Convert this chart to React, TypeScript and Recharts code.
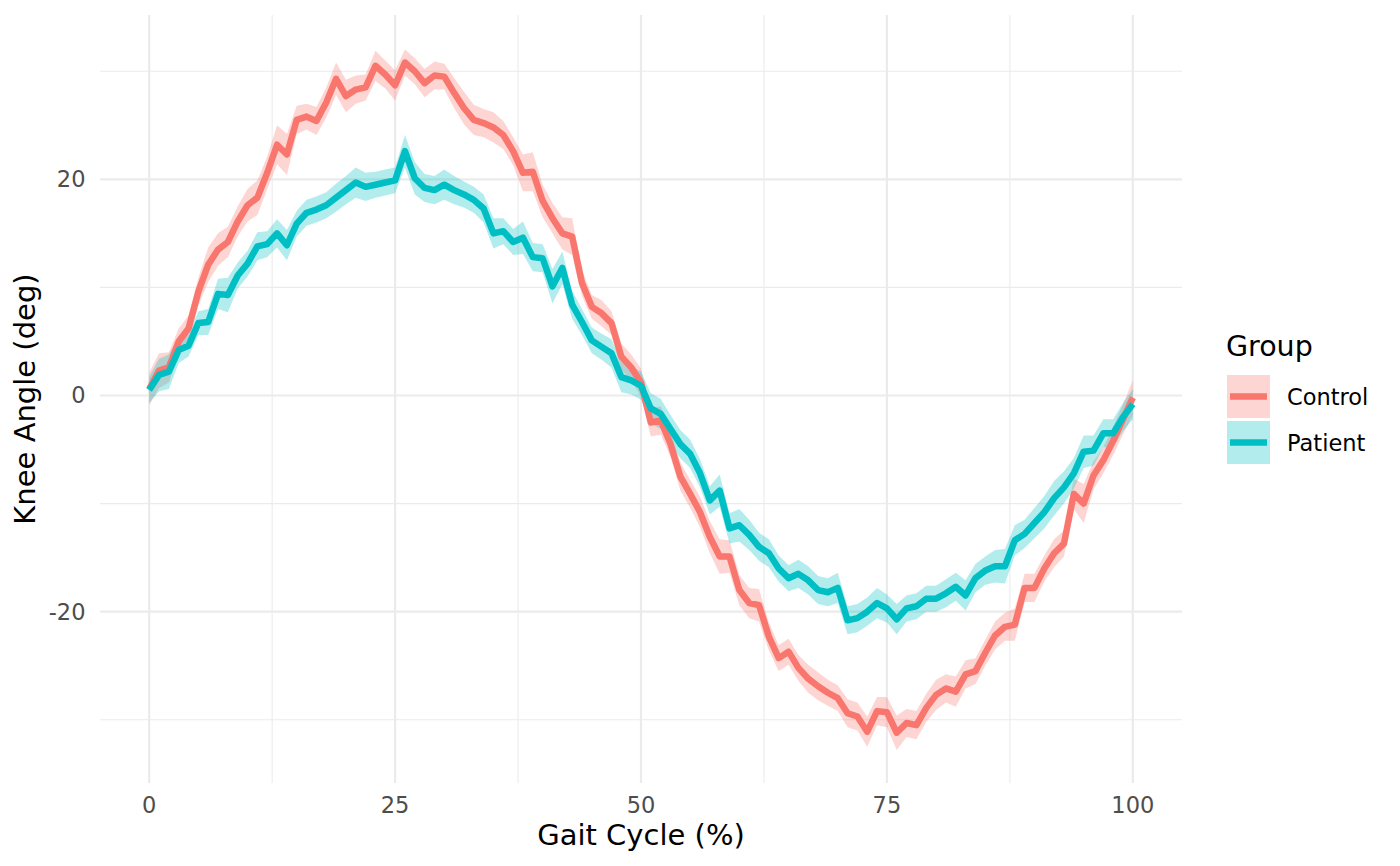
import React from 'react';
import {
  ComposedChart, Area, Line, XAxis, YAxis, CartesianGrid,
} from 'recharts';

// gait cycle positions (%)
const gaitPct = [
  0, 1, 2, 3, 4, 5, 6, 7, 8, 9, 10, 11, 12, 13, 14, 15, 16, 17, 18, 19,
  20, 21, 22, 23, 24, 25, 26, 27, 28, 29, 30, 31, 32, 33, 34, 35, 36, 37, 38, 39,
  40, 41, 42, 43, 44, 45, 46, 47, 48, 49, 50, 51, 52, 53, 54, 55, 56, 57, 58, 59,
  60, 61, 62, 63, 64, 65, 66, 67, 68, 69, 70, 71, 72, 73, 74, 75, 76, 77, 78, 79,
  80, 81, 82, 83, 84, 85, 86, 87, 88, 89, 90, 91, 92, 93, 94, 95, 96, 97, 98, 99, 100,
];

const controlMean = [
  0.6, 2.3, 2.6, 5.0, 6.2, 9.6, 12.1, 13.5, 14.2, 16.1,
  17.6, 18.3, 20.6, 23.2, 22.3, 25.5, 25.8, 25.4, 27.1, 29.3,
  27.7, 28.3, 28.5, 30.5, 29.7, 28.7, 30.8, 30.0, 28.9, 29.6,
  29.5, 28.0, 26.6, 25.5, 25.2, 24.8, 24.1, 22.6, 20.6, 20.7,
  18.0, 16.4, 15.0, 14.7, 10.4, 8.2, 7.6, 6.7, 3.6, 2.6,
  1.2, -2.5, -2.3, -4.5, -7.5, -9.1, -10.8, -13.1, -14.9, -14.9,
  -18.0, -19.2, -19.4, -22.3, -24.3, -23.7, -25.2, -26.2, -26.9, -27.5,
  -28.0, -29.4, -29.7, -31.1, -29.2, -29.3, -31.2, -30.3, -30.5, -28.9,
  -27.7, -27.1, -27.4, -25.8, -25.5, -23.8, -22.2, -21.4, -21.2, -17.8,
  -17.8, -16.0, -14.6, -13.7, -9.1, -10.0, -7.4, -6.0, -4.2, -2.2,
  -0.2,
];

const controlSd = [
  1.5, 1.6, 1.4, 1.2, 1.2, 1.3, 1.6, 1.5, 1.4, 1.4,
  1.5, 1.6, 1.5, 1.8, 1.9, 1.3, 1.2, 1.3, 1.4, 1.5,
  1.5, 1.3, 1.2, 1.4, 1.3, 1.4, 1.2, 1.2, 1.3, 1.3,
  1.2, 1.4, 1.5, 1.4, 1.3, 1.4, 1.3, 1.3, 1.7, 1.8,
  1.5, 1.4, 1.5, 1.7, 1.2, 1.1, 1.2, 1.1, 1.2, 1.2,
  1.3, 1.3, 1.3, 1.2, 1.3, 1.3, 1.4, 1.5, 1.6, 1.5,
  1.4, 1.4, 1.5, 1.3, 1.2, 1.2, 1.2, 1.3, 1.3, 1.2,
  1.2, 1.3, 1.3, 1.4, 1.3, 1.4, 1.6, 1.3, 1.3, 1.3,
  1.4, 1.3, 1.4, 1.3, 1.2, 1.2, 1.3, 1.3, 1.5, 1.3,
  1.3, 1.2, 1.3, 1.2, 1.4, 1.8, 1.3, 1.2, 1.3, 1.4,
  1.6,
];

const patientMean = [
  0.5, 1.9, 2.2, 4.2, 4.6, 6.7, 6.8, 9.4, 9.3, 11.1,
  12.2, 13.8, 14.0, 15.0, 13.9, 15.9, 16.9, 17.2, 17.6, 18.3,
  19.0, 19.7, 19.3, 19.5, 19.7, 19.9, 22.6, 20.1, 19.2, 19.0,
  19.5, 19.0, 18.6, 18.1, 17.3, 15.0, 15.2, 14.2, 14.6, 12.8,
  12.7, 10.1, 11.8, 8.4, 6.8, 5.1, 4.5, 3.9, 1.7, 1.4,
  0.9, -1.2, -1.7, -3.1, -4.5, -5.4, -7.2, -9.7, -8.8, -12.3,
  -12.0, -12.9, -14.0, -14.6, -16.0, -16.9, -16.5, -17.1, -18.0, -18.2,
  -17.8, -20.8, -20.6, -20.0, -19.2, -19.7, -20.7, -19.7, -19.5, -18.8,
  -18.8, -18.3, -17.7, -18.5, -16.9, -16.2, -15.8, -15.8, -13.4, -12.8,
  -11.8, -10.8, -9.5, -8.5, -7.2, -5.2, -5.1, -3.5, -3.5, -2.0,
  -0.8,
];

const patientSd = [
  1.2, 1.5, 1.6, 1.2, 1.0, 1.1, 1.2, 1.4, 1.6, 1.2,
  1.2, 1.3, 1.2, 1.3, 1.4, 1.2, 1.2, 1.2, 1.2, 1.3,
  1.3, 1.4, 1.3, 1.2, 1.2, 1.2, 1.5, 1.5, 1.3, 1.3,
  1.4, 1.3, 1.2, 1.2, 1.3, 1.4, 1.2, 1.2, 1.5, 1.3,
  1.3, 1.6, 1.5, 1.3, 1.2, 1.2, 1.2, 1.3, 1.4, 1.3,
  1.3, 1.4, 1.4, 1.3, 1.3, 1.3, 1.3, 1.3, 1.5, 1.4,
  1.5, 1.4, 1.3, 1.3, 1.2, 1.2, 1.3, 1.3, 1.3, 1.3,
  1.4, 1.3, 1.3, 1.3, 1.4, 1.3, 1.4, 1.2, 1.2, 1.2,
  1.2, 1.3, 1.3, 1.4, 1.3, 1.3, 1.5, 1.6, 1.4, 1.3,
  1.4, 1.5, 1.6, 1.5, 1.4, 1.5, 1.4, 1.3, 1.3, 1.3,
  1.4,
];

const xTicks = [0, 25, 50, 75, 100];
const xMinor = [12.5, 37.5, 62.5, 87.5];
const yTicks = [-20, 0, 20];
const yMinor = [-30, -10, 10, 30];

const groups = [
  { name: 'Control', color: '#F8766D' },
  { name: 'Patient', color: '#00BFC4' },
];

const FONT = '"DejaVu Sans", sans-serif';
const GRID = '#EBEBEB';
const TICK = { fill: '#4D4D4D', fontSize: 22.5, fontFamily: FONT };
const TITLE = { fontSize: 29, fill: '#000', fontFamily: FONT };

const data = gaitPct.map((p, i) => ({
  pct: p,
  control: controlMean[i],
  controlBand: [controlMean[i] - controlSd[i], controlMean[i] + controlSd[i]],
  patient: patientMean[i],
  patientBand: [patientMean[i] - patientSd[i], patientMean[i] + patientSd[i]],
}));

function GroupLegend() {
  return (
    <svg
      width={1400}
      height={866}
      style={{ position: 'absolute', left: 0, top: 0, pointerEvents: 'none' }}
    >
      <text x={1226} y={356} fontSize={28.5} fontFamily={FONT} fill="#000">Group</text>
      {groups.map((g, i) => {
        const top = 375 + i * 46;
        return (
          <g key={g.name}>
            <rect x={1227} y={top} width={43} height={43} fill={g.color} fillOpacity={0.3} />
            <line x1={1230} x2={1267} y1={top + 21.5} y2={top + 21.5} stroke={g.color} strokeWidth={6.5} />
            <text x={1287} y={top + 30} fontSize={22.5} fontFamily={FONT} fill="#000">{g.name}</text>
          </g>
        );
      })}
    </svg>
  );
}

export default function App() {
  return (
    <div style={{ position: 'absolute', left: 0, top: 0, width: 1400, height: 866, background: '#fff', fontFamily: FONT }}>
      <ComposedChart
        width={1400}
        height={866}
        data={data}
        margin={{ top: 15, right: 218, left: 0, bottom: 0 }}
      >
        <CartesianGrid stroke={GRID} strokeWidth={1.1} horizontalValues={yMinor} verticalValues={xMinor} />
        <CartesianGrid stroke={GRID} strokeWidth={2.2} horizontalValues={yTicks} verticalValues={xTicks} />
        <XAxis
          dataKey="pct"
          type="number"
          domain={[-5, 105]}
          ticks={xTicks}
          tick={TICK}
          tickLine={false}
          axisLine={false}
          tickMargin={8}
          height={83}
          label={{
            value: 'Gait Cycle (%)',
            position: 'insideBottom',
            offset: 21,
            style: TITLE,
          }}
        />
        <YAxis
          type="number"
          domain={[-35.85, 35.2]}
          ticks={yTicks}
          tick={TICK}
          tickLine={false}
          axisLine={false}
          tickMargin={8.5}
          width={100}
          allowDataOverflow
          label={{
            value: 'Knee Angle (deg)',
            angle: -90,
            position: 'insideLeft',
            offset: 25,
            style: { ...TITLE, textAnchor: 'middle' },
          }}
        />
        <Area
          type="linear"
          dataKey="controlBand"
          stroke="none"
          fill="#F8766D"
          fillOpacity={0.3}
          isAnimationActive={false}
        />
        <Area
          type="linear"
          dataKey="patientBand"
          stroke="none"
          fill="#00BFC4"
          fillOpacity={0.3}
          isAnimationActive={false}
        />
        <Line
          type="linear"
          dataKey="control"
          stroke="#F8766D"
          strokeWidth={6.5}
          strokeLinejoin="round"
          dot={false}
          activeDot={false}
          isAnimationActive={false}
        />
        <Line
          type="linear"
          dataKey="patient"
          stroke="#00BFC4"
          strokeWidth={6.5}
          strokeLinejoin="round"
          dot={false}
          activeDot={false}
          isAnimationActive={false}
        />
      </ComposedChart>
      <GroupLegend />
    </div>
  );
}
